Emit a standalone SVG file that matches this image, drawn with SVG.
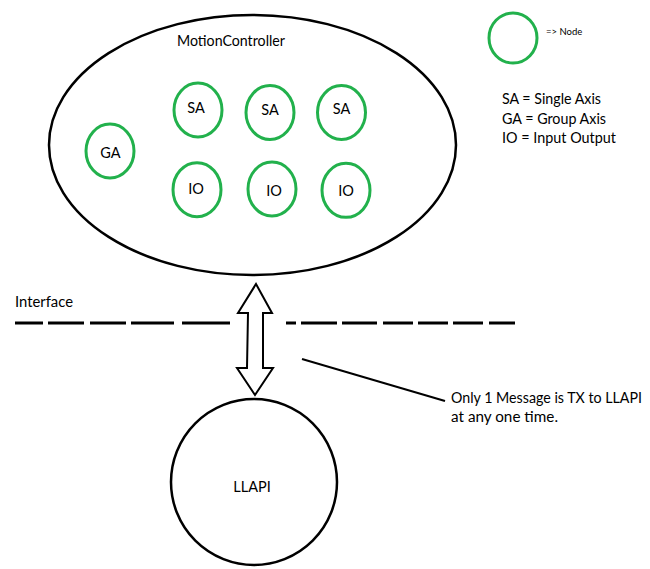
<svg xmlns="http://www.w3.org/2000/svg" width="650" height="569" viewBox="0 0 650 569">
<style>
  text { font-family: Lato, "Liberation Sans", sans-serif; font-size: 14.5px; fill: #000; }
  .node { fill: none; stroke: #22b14c; stroke-width: 3; }
  .big { fill: none; stroke: #000; stroke-width: 2.5; }
  .mid { text-anchor: middle; }
  .dash { stroke: #000; stroke-width: 3; }
  .conn { fill: none; stroke: #000; stroke-width: 2; }
</style>
<rect width="650" height="569" fill="#fff"/>

<g id="motion-controller">
  <ellipse class="big" cx="252.5" cy="145" rx="203.5" ry="130"/>
  <text x="177" y="46" textLength="108" lengthAdjust="spacingAndGlyphs">MotionController</text>
</g>

<g id="node-sa1"><ellipse class="node" cx="198" cy="110" rx="24" ry="27"/><text class="mid" x="196" y="113">SA</text></g>
<g id="node-sa2"><ellipse class="node" cx="270" cy="112.5" rx="24" ry="27"/><text class="mid" x="270" y="115">SA</text></g>
<g id="node-sa3"><ellipse class="node" cx="341.5" cy="112.5" rx="24" ry="27"/><text class="mid" x="341.5" y="114">SA</text></g>
<g id="node-ga"><ellipse class="node" cx="110" cy="151" rx="24" ry="27"/><text class="mid" x="110.5" y="157.5">GA</text></g>
<g id="node-io1"><ellipse class="node" cx="197" cy="189.7" rx="24" ry="27"/><text class="mid" x="196" y="194">IO</text></g>
<g id="node-io2"><ellipse class="node" cx="272" cy="189" rx="24" ry="27"/><text class="mid" x="274" y="195.5">IO</text></g>
<g id="node-io3"><ellipse class="node" cx="346" cy="190.3" rx="24" ry="27"/><text class="mid" x="346" y="196">IO</text></g>

<g id="llapi">
  <circle class="big" cx="254" cy="482" r="83" stroke-width="2"/>
  <text class="mid" x="252" y="492">LLAPI</text>
</g>

<g id="legend">
  <ellipse class="node" cx="513" cy="38" rx="24" ry="25"/>
  <text x="546" y="35" style="font-size:9.5px">=&gt; Node</text>
  <text x="502" y="104" textLength="99" lengthAdjust="spacingAndGlyphs">SA = Single Axis</text>
  <text x="502" y="123.5" textLength="104" lengthAdjust="spacingAndGlyphs">GA = Group Axis</text>
  <text x="502" y="143" textLength="114" lengthAdjust="spacingAndGlyphs">IO = Input Output</text>
</g>

<g id="interface">
  <text x="15" y="307" textLength="58" lengthAdjust="spacingAndGlyphs">Interface</text>
  <line class="dash" x1="15" y1="323" x2="43" y2="323"/>
  <line class="dash" x1="48" y1="323" x2="84" y2="323"/>
  <line class="dash" x1="90" y1="323" x2="126" y2="323"/>
  <line class="dash" x1="131" y1="323" x2="174" y2="323"/>
  <line class="dash" x1="182" y1="323" x2="230" y2="323"/>
  <line class="dash" x1="286" y1="323" x2="296" y2="323"/>
  <line class="dash" x1="301" y1="323" x2="337" y2="323"/>
  <line class="dash" x1="342" y1="323" x2="377" y2="323"/>
  <line class="dash" x1="383" y1="323" x2="413" y2="323"/>
  <line class="dash" x1="418" y1="323" x2="448" y2="323"/>
  <line class="dash" x1="453" y1="323" x2="483" y2="323"/>
  <line class="dash" x1="489" y1="323" x2="515" y2="323"/>
</g>

<g id="connectors">
  <path class="conn" fill="#fff" d="M256,284 L272,313 L263,313 L263,368 L273,368 L255,395 L237,368 L247,368 L248,313 L238,313 Z"/>
  <line class="conn" x1="302" y1="359" x2="445" y2="401"/>
</g>

<g id="note">
  <text x="451" y="403" textLength="191" lengthAdjust="spacingAndGlyphs">Only 1 Message is TX to LLAPI</text>
  <text x="451" y="422" textLength="107" lengthAdjust="spacingAndGlyphs">at any one time.</text>
</g>
</svg>
